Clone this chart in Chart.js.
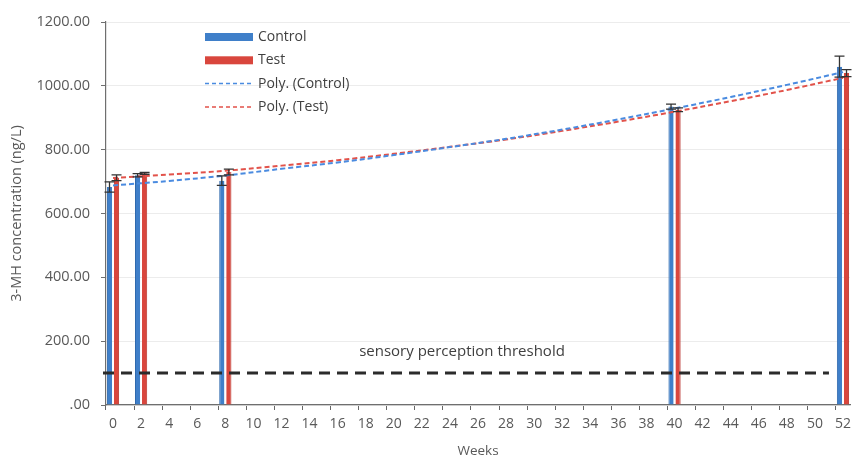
<!DOCTYPE html>
<html>
<head>
<meta charset="utf-8">
<script src="https://cdn.jsdelivr.net/npm/chart.js@4.4.1/dist/chart.umd.min.js"></script>
<style>
  html, body { margin: 0; padding: 0; background: #fff; }
  #wrap { width: 857px; height: 459px; }
</style>
</head>
<body>
<div id="wrap"><canvas id="mh-chart"></canvas></div>
<script>
// week labels on the axis, 0..52
const weekLabels = [];
for (let w = 0; w <= 52; w++) weekLabels.push(String(w));

// measured weeks
const sampleWeeks = [0, 2, 8, 40, 52];
const controlValues = [683, 720, 703, 935, 1060];
const testValues = [712, 726, 730, 925, 1040];
const controlErr = [16, 5, 15, 8, 33];
const testErr = [9, 3, 9, 6, 11];

// polynomial trend lines
const trendWeeks = [0, 4, 8, 12, 16, 20, 24, 28, 32, 36, 40, 44, 48, 52];
const polyControl = [688, 702, 719, 740, 760, 783, 808, 834, 863, 895, 929, 965, 1003, 1043];
const polyTest = [711, 722, 734, 750, 767, 787, 809, 832, 859, 888, 919, 952, 987, 1025];

const yTicks = [0, 200, 400, 600, 800, 1000, 1200];
const thresholdValue = 100;
const thresholdEndWeek = '51';

const blue = '#3f7fc9';
const red = '#d9463d';

function pairs(xs, ys) {
    return xs.map((x, i) => ({ x: String(x), y: ys[i] }));
}

// error bars on top of the columns
const errorBars = {
    id: 'errorBars',
    afterDatasetsDraw(chart) {
        const ctx = chart.ctx;
        const yScale = chart.scales.y;
        const errs = [controlErr, testErr];
        const vals = [controlValues, testValues];
        ctx.save();
        ctx.strokeStyle = '#333';
        ctx.lineWidth = 1.3;
        [0, 1].forEach(d => {
            const meta = chart.getDatasetMeta(d);
            meta.data.forEach((bar, i) => {
                const x = bar.x;
                const top = yScale.getPixelForValue(vals[d][i] + errs[d][i]);
                const bot = yScale.getPixelForValue(vals[d][i] - errs[d][i]);
                ctx.beginPath();
                ctx.moveTo(x, top); ctx.lineTo(x, bot);
                ctx.moveTo(x - 5, top); ctx.lineTo(x + 5, top);
                ctx.moveTo(x - 5, bot); ctx.lineTo(x + 5, bot);
                ctx.stroke();
            });
        });
        ctx.restore();
    }
};

// threshold line and its label
const threshold = {
    id: 'threshold',
    afterDatasetsDraw(chart) {
        const ctx = chart.ctx;
        const y = chart.scales.y.getPixelForValue(thresholdValue);
        const x0 = chart.chartArea.left - 3;
        const x1 = chart.scales.x.getPixelForValue(weekLabels.indexOf(thresholdEndWeek));
        ctx.save();
        ctx.strokeStyle = '#2b2b2b';
        ctx.lineWidth = 3;
        ctx.setLineDash([11, 7]);
        ctx.beginPath();
        ctx.moveTo(x0, y);
        ctx.lineTo(x1, y);
        ctx.stroke();
        ctx.setLineDash([]);
        ctx.fillStyle = '#404040';
        ctx.font = '15px "Open Sans"';
        ctx.textAlign = 'center';
        ctx.textBaseline = 'middle';
        ctx.fillText('sensory perception threshold', 462, y - 21);
        ctx.restore();
    }
};

// legend inside the plot, top left
const insideLegend = {
    id: 'insideLegend',
    afterDraw(chart) {
        const ctx = chart.ctx;
        const left = chart.chartArea.left + 99;
        let y = chart.chartArea.top + 15;
        ctx.save();
        ctx.font = '14px "Open Sans"';
        ctx.textBaseline = 'middle';
        ctx.fillStyle = '#404040';
        chart.data.datasets.forEach(ds => {
            if (ds.type === 'bar') {
                ctx.fillStyle = ds.backgroundColor;
                ctx.fillRect(left, y - 4, 48, 8);
            } else {
                ctx.strokeStyle = ds.borderColor;
                ctx.lineWidth = 1.5;
                ctx.setLineDash([4, 3]);
                ctx.beginPath();
                ctx.moveTo(left, y);
                ctx.lineTo(left + 48, y);
                ctx.stroke();
                ctx.setLineDash([]);
            }
            ctx.fillStyle = '#404040';
            ctx.fillText(ds.label, left + 53, y);
            y += 23.3;
        });
        ctx.restore();
    }
};

const ctxMain = document.getElementById('mh-chart');
const mhChart = new Chart(ctxMain, {
    data: {
        labels: weekLabels,
        datasets: [{
            type: 'bar',
            label: 'Control',
            data: pairs(sampleWeeks, controlValues),
            backgroundColor: blue,
            borderColor: '#2f6aae',
            borderWidth: { left: 1, right: 0, top: 0, bottom: 0 },
            categoryPercentage: 1.0,
            barPercentage: 0.74,
            order: 2
        }, {
            type: 'bar',
            label: 'Test',
            data: pairs(sampleWeeks, testValues),
            backgroundColor: red,
            borderColor: '#b8352e',
            borderWidth: { left: 0, right: 1, top: 0, bottom: 0 },
            categoryPercentage: 1.0,
            barPercentage: 0.74,
            order: 2
        }, {
            type: 'line',
            label: 'Poly. (Control)',
            data: pairs(trendWeeks, polyControl),
            borderColor: '#4a8be0',
            borderWidth: 2,
            borderDash: [5, 3],
            pointRadius: 0,
            tension: 0.4,
            fill: false,
            order: 1
        }, {
            type: 'line',
            label: 'Poly. (Test)',
            data: pairs(trendWeeks, polyTest),
            borderColor: '#e2524a',
            borderWidth: 2,
            borderDash: [5, 3],
            pointRadius: 0,
            tension: 0.4,
            fill: false,
            order: 1
        }]
    },
    options: {
        responsive: true,
        maintainAspectRatio: false,
        animation: false,
        layout: { padding: { top: 22, right: 0, left: 0, bottom: 0 } },
        plugins: {
            legend: { display: false },
            tooltip: { enabled: false }
        },
        scales: {
            x: {
                type: 'category',
                offset: true,
                grid: {
                    offset: true,
                    drawOnChartArea: false,
                    tickLength: 5,
                    tickColor: (c) => (c.index % 2 === 0 ? '#666' : 'rgba(0,0,0,0)')
                },
                border: { color: '#6f6f6f', width: 1.2 },
                ticks: {
                    autoSkip: false,
                    maxRotation: 0,
                    padding: 6,
                    color: '#595959',
                    font: { family: 'Open Sans', size: 14 },
                    callback: function (v, i) { return i % 2 === 0 ? this.getLabelForValue(v) : ''; }
                },
                title: {
                    display: true,
                    text: 'Weeks',
                    color: '#595959',
                    font: { family: 'Open Sans', size: 13.5 },
                    padding: { top: 4, bottom: 0 }
                },
                afterFit: (scale) => { scale.height = 54; }
            },
            y: {
                min: 0,
                max: 1200,
                afterBuildTicks: (scale) => { scale.ticks = yTicks.map(v => ({ value: v })); },
                grid: {
                    color: '#ececec',
                    tickColor: '#6f6f6f',
                    tickLength: 5
                },
                border: { color: '#6f6f6f', width: 1.2 },
                ticks: {
                    padding: 11,
                    color: '#595959',
                    font: { family: 'Open Sans', size: 14.5 },
                    callback: (v) => (v === 0 ? '.00' : v.toFixed(2))
                },
                title: {
                    display: true,
                    text: '3-MH concentration (ng/L)',
                    color: '#595959',
                    font: { family: 'Open Sans', size: 14.5 },
                    padding: { top: 8, bottom: 4 }
                },
                afterFit: (scale) => { scale.width = 106; }
            }
        }
    },
    plugins: [errorBars, threshold, insideLegend]
});
</script>
</body>
</html>
